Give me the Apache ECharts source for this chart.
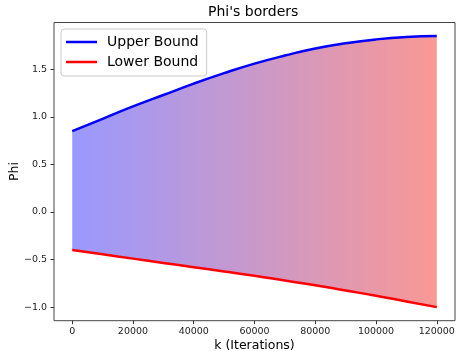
<!DOCTYPE html>
<html>
<head>
<meta charset="utf-8">
<script src="https://cdn.jsdelivr.net/npm/echarts@6/dist/echarts.min.js"></script>
<style>
  html, body { margin: 0; padding: 0; background: #fff; }
  #chart { width: 456px; height: 351px; }
</style>
</head>
<body>
<div id="chart"></div>
<script>
// iterations (x) and the two borders
const kValues = [0, 10000, 20000, 30000, 40000, 50000, 60000, 70000, 80000, 90000, 100000, 110000, 120000];
const upperBound = [0.85, 0.98, 1.11, 1.23, 1.35, 1.46, 1.56, 1.645, 1.72, 1.775, 1.815, 1.84, 1.85];
const lowerBound = [-0.40, -0.445, -0.49, -0.535, -0.58, -0.625, -0.67, -0.72, -0.77, -0.825, -0.88, -0.94, -1.0];
const xTicks = [0, 20000, 40000, 60000, 80000, 100000, 120000];
const yTicks = [-1.0, -0.5, 0.0, 0.5, 1.0, 1.5];

const FONT = 'DejaVu Sans';
const chart = echarts.init(document.getElementById('chart'));

const toPairs = (ys) => kValues.map((k, i) => [k, ys[i]]);
const lineIcon = 'path://M0,0 L31,0 L31,2.5 L0,2.5 Z';

const option = {
  animation: false,
  backgroundColor: '#fff',
  title: {
    text: "Phi's borders",
    left: 208,
    top: 5,
    padding: 0,
    textStyle: { fontFamily: FONT, fontSize: 14, fontWeight: 'normal', color: '#000' }
  },
  legend: {
    data: [
      { name: 'Upper Bound', icon: lineIcon },
      { name: 'Lower Bound', icon: lineIcon }
    ],
    orient: 'vertical',
    left: 61,
    top: 29,
    padding: [6, 8, 7, 5],
    itemWidth: 31,
    itemHeight: 14,
    itemGap: 6,
    backgroundColor: '#fff',
    borderColor: '#ccc',
    borderWidth: 1,
    borderRadius: 3,
    textStyle: { fontFamily: FONT, fontSize: 14, color: '#000', padding: [0, 0, 0, 5] }
  },
  grid: {
    left: 54,
    right: 1,
    top: 22.5,
    bottom: 30.3,
    containLabel: false,
    outerBoundsMode: 'none',
    show: true,
    borderColor: '#444',
    borderWidth: 1
  },
  xAxis: {
    type: 'value',
    min: -6000,
    max: 126000,
    name: 'k (Iterations)',
    nameLocation: 'middle',
    nameGap: 19,
    nameMoveOverlap: false,
    nameTextStyle: { fontFamily: FONT, fontSize: 12.5, color: '#000' },
    axisLine: { show: false, onZero: false },
    splitLine: { show: false },
    axisTick: { show: true, length: 3.5, customValues: xTicks, lineStyle: { color: '#333' } },
    axisLabel: {
      customValues: xTicks,
      margin: 6,
      fontFamily: FONT, fontSize: 9.5, color: '#222',
      formatter: (v) => String(v)
    }
  },
  yAxis: {
    type: 'value',
    min: -1.1425,
    max: 1.9925,
    name: 'Phi',
    nameLocation: 'middle',
    nameGap: 33,
    nameMoveOverlap: false,
    nameTextStyle: { fontFamily: FONT, fontSize: 12.5, color: '#000' },
    axisLine: { show: false, onZero: false },
    splitLine: { show: false },
    axisTick: { show: true, length: 3.5, customValues: yTicks, lineStyle: { color: '#333' } },
    axisLabel: {
      customValues: yTicks,
      margin: 7,
      fontFamily: FONT, fontSize: 9.5, color: '#222',
      formatter: (v) => v.toFixed(1).replace('-', '\u2212')
    }
  },
  series: [
    {
      // shaded band between the borders
      name: 'band',
      type: 'custom',
      silent: true,
      data: [[0, 0]],
      renderItem: function (params, api) {
        const top = kValues.map((k, i) => api.coord([k, upperBound[i]]));
        const bottom = kValues.map((k, i) => api.coord([k, lowerBound[i]])).reverse();
        return {
          type: 'polygon',
          shape: { points: top.concat(bottom) },
          style: {
            fill: new echarts.graphic.LinearGradient(0, 0, 1, 0, [
              { offset: 0, color: '#9999ff' },
              { offset: 1, color: '#fa9894' }
            ])
          }
        };
      }
    },
    {
      name: 'Upper Bound',
      type: 'line',
      data: toPairs(upperBound),
      smooth: true,
      symbol: 'none',
      lineStyle: { color: '#0000ff', width: 2.5 },
      itemStyle: { color: '#0000ff' },
      z: 3
    },
    {
      name: 'Lower Bound',
      type: 'line',
      data: toPairs(lowerBound),
      smooth: true,
      symbol: 'none',
      lineStyle: { color: '#ff0000', width: 2.5 },
      itemStyle: { color: '#ff0000' },
      z: 3
    }
  ]
};

chart.setOption(option);
</script>
</body>
</html>
